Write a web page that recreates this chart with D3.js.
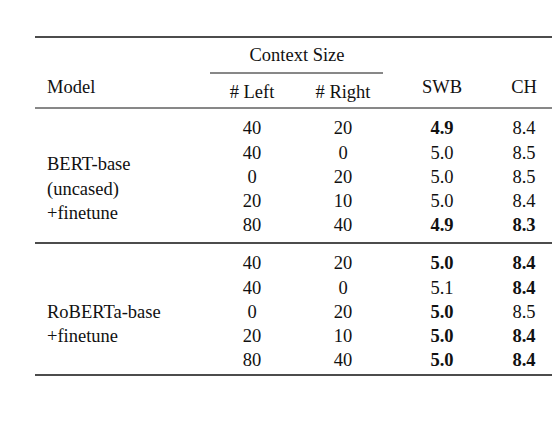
<!DOCTYPE html>
<html><head><meta charset="utf-8">
<script src="https://cdn.jsdelivr.net/npm/d3@7"></script>
<style>body{margin:0;background:#fff}</style></head>
<body><svg id="t" width="552" height="432"></svg>
<script>
// table data
const groups = [
  { lines: ["BERT-base", "(uncased)", "+finetune"], rows: 5 },
  { lines: ["RoBERTa-base", "+finetune"], rows: 5 }
]
const leftCtx = [40, 40, 0, 20, 80, 40, 40, 0, 20, 80]
const rightCtx = [20, 0, 20, 10, 40, 20, 0, 20, 10, 40]
const swb = ["4.9", "5.0", "5.0", "5.0", "4.9", "5.0", "5.1", "5.0", "5.0", "5.0"]
const swbBold = [1, 0, 0, 0, 1, 1, 0, 1, 1, 1]
const ch = ["8.4", "8.5", "8.5", "8.4", "8.3", "8.4", "8.4", "8.5", "8.4", "8.4"]
const chBold = [0, 0, 0, 0, 1, 1, 1, 0, 1, 1]

const svg = d3.select("#t")
const font = "'Liberation Serif', 'Times New Roman', serif"
const fs = 18.5
const x0 = 35, x1 = 552

const colX = { left: 252, right: 343, swb: 442, ch: 524 }

// row positions: two blocks of 5
const rowY = d3.scaleLinear().domain([0, 4]).range([128, 225])
const rowY2 = d3.scaleLinear().domain([0, 4]).range([263, 360])
const yOf = i => i < 5 ? rowY(i) : rowY2(i - 5)

function text(x, y, s, anchor, bold) {
  svg.append("text").attr("x", x).attr("y", y)
    .attr("dy", "0.35em")
    .attr("text-anchor", anchor)
    .attr("font-family", font)
    .attr("font-size", fs)
    .attr("font-weight", bold ? "bold" : "normal")
    .attr("fill", "#111")
    .text(s)
}
function hline(y, xa, xb, w) {
  svg.append("line").attr("x1", xa).attr("x2", xb).attr("y1", y).attr("y2", y)
    .attr("stroke", "#111").attr("stroke-width", w)
}

// rules
hline(37, x0, x1, 1.6)
hline(73, 210, 383, 1)
hline(108, x0, x1, 1)
hline(243, x0, x1, 1.6)
hline(375, x0, x1, 1.6)

// header
text(297, 55, "Context Size", "middle")
text(47, 87, "Model", "start")
text(colX.left, 92, "# Left", "middle")
text(colX.right, 92, "# Right", "middle")
text(colX.swb, 87, "SWB", "middle")
text(colX.ch, 87, "CH", "middle")

// group labels
const labelStep = 24.5
groups.forEach((g, gi) => {
  const start = gi * 5
  const mid = (yOf(start) + yOf(start + 4)) / 2 + 12
  g.lines.forEach((l, li) => {
    text(47, mid + (li - (g.lines.length - 1) / 2) * labelStep, l, "start")
  })
})

// rows
leftCtx.forEach((v, i) => {
  const y = yOf(i)
  text(colX.left, y, v, "middle")
  text(colX.right, y, rightCtx[i], "middle")
  text(colX.swb, y, swb[i], "middle", swbBold[i])
  text(colX.ch, y, ch[i], "middle", chBold[i])
})
</script></body></html>
